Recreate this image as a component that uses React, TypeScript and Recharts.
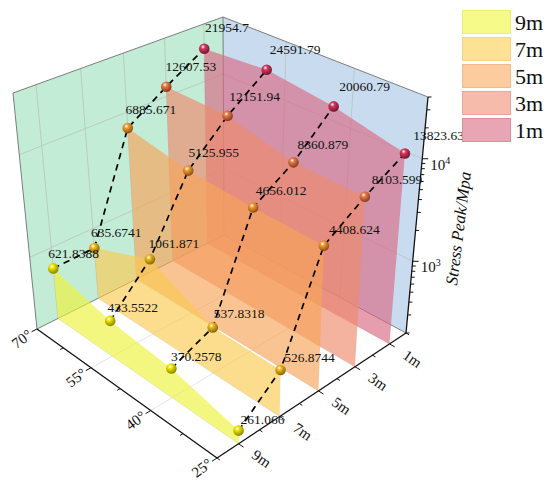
import React from 'react';
import { ScatterChart, Scatter, XAxis, YAxis } from 'recharts';

const W = 550;
const H = 487;

// data
const angleLabels = ['70°', '55°', '40°', '25°'];
const seriesLabels = ['9m', '7m', '5m', '3m', '1m'];
const stress9m = [621.8388, 433.5522, 370.2578, 261.066];
const stress7m = [635.6741, 1061.871, 537.8318, 526.8744];
const stress5m = [6885.671, 5125.955, 4656.012, 4408.624];
const stress3m = [12607.53, 12151.94, 8360.879, 8103.599];
const stress1m = [21954.7, 24591.79, 20060.79, 13823.63];
const seriesValues = [stress9m, stress7m, stress5m, stress3m, stress1m];
const zDomain = [200, 40000];
const zMajorTicks = [1000, 10000];
const zMajorExponents = ['3', '4'];

// colours
const legendFill = ['#f6fa88', '#fde194', '#fccb9e', '#f6bbab', '#e8a5b3'];
const legendStroke = ['#eef06a', '#f8d27c', '#f7b98a', '#f0a598', '#df8b9d'];
const ribbonFill = ['#eef23a', '#fbca50', '#f8a458', '#ee8a6c', '#d86a82'];
const sphereColor = ['#ece400', '#ebb81c', '#ee9c30', '#e57846', '#d03a5c'];
const sphereDark = ['#8c8400', '#8e6400', '#8c4c10', '#8a3a1e', '#7c1232'];

// 3D box corners on screen (floor and top faces): 70°/9m, 25°/9m, 25°/1m, 70°/1m
const floorQuad = [[37, 329], [217, 458], [406, 333], [224, 235]];
const topQuad = [[13, 93], [215, 193], [428, 97], [223, 17]];

function makeHomography(q: number[][]) {
  const [[x0, y0], [x1, y1], [x2, y2], [x3, y3]] = q;
  const dx1 = x1 - x2, dx2 = x3 - x2, dx3 = x0 - x1 + x2 - x3;
  const dy1 = y1 - y2, dy2 = y3 - y2, dy3 = y0 - y1 + y2 - y3;
  const den = dx1 * dy2 - dx2 * dy1;
  const g = (dx3 * dy2 - dx2 * dy3) / den;
  const h = (dx1 * dy3 - dx3 * dy1) / den;
  const a = x1 - x0 + g * x1, b = x3 - x0 + h * x3, c = x0;
  const d = y1 - y0 + g * y1, e = y3 - y0 + h * y3, f = y0;
  return (u: number, v: number) => {
    const w = g * u + h * v + 1;
    return [(a * u + b * v + c) / w, (d * u + e * v + f) / w];
  };
}

const floorAt = makeHomography(floorQuad);
const topAt = makeHomography(topQuad);
const lz0 = Math.log10(zDomain[0]);
const lz1 = Math.log10(zDomain[1]);
const logFrac = (val: number) => (Math.log10(val) - lz0) / (lz1 - lz0);
const uOf = (i: number) => i / (angleLabels.length - 1);
const vOf = (j: number) => (j + 0.5) / seriesLabels.length;

type Pt = { x: number; y: number; label?: string; id?: string };

function project(u: number, v: number, hf: number): Pt {
  const f = floorAt(u, v);
  const t = topAt(u, v);
  return { x: f[0] + hf * (t[0] - f[0]), y: f[1] + hf * (t[1] - f[1]) };
}

// ---------- geometry built from the data ----------
const leftWall = [project(0, 0, 0), project(0, 1, 0), project(0, 1, 1), project(0, 0, 1)];
const rightWall = [project(0, 1, 0), project(1, 1, 0), project(1, 1, 1), project(0, 1, 1)];

const wallGrid: Pt[] = [];
seriesLabels.forEach((_, j) => wallGrid.push(project(0, vOf(j), 0), project(0, vOf(j), 1)));
zMajorTicks.forEach((z) => wallGrid.push(project(0, 0, logFrac(z)), project(0, 1, logFrac(z))));
[1, 2].forEach((i) => wallGrid.push(project(uOf(i), 1, 0), project(uOf(i), 1, 1)));
zMajorTicks.forEach((z) => wallGrid.push(project(0, 1, logFrac(z)), project(1, 1, logFrac(z))));

const floorGrid: Pt[] = [];
[1, 2].forEach((i) => floorGrid.push(project(uOf(i), 0, 0), project(uOf(i), 1, 0)));
seriesLabels.forEach((_, j) => floorGrid.push(project(0, vOf(j), 0), project(1, vOf(j), 0)));

const boxEdges: Pt[] = [
  project(0, 0, 1), project(0, 1, 1),
  project(0, 1, 1), project(1, 1, 1),
  project(0, 0, 0), project(0, 0, 1),
  project(0, 1, 0), project(0, 1, 1),
  project(0, 0, 0), project(0, 1, 0),
  project(0, 1, 0), project(1, 1, 0),
];

const axisLines: Pt[] = [
  project(0, 0, 0), project(1, 0, 0),
  project(1, 0, 0), project(1, 1, 0),
  project(1, 1, 0), project(1, 1, 1),
];

function tickSeg(p: Pt, q: Pt, len: number): Pt[] {
  const dx = q.x - p.x, dy = q.y - p.y;
  const n = Math.hypot(dx, dy) || 1;
  return [p, { x: p.x + (dx / n) * len, y: p.y + (dy / n) * len }];
}

const ticks: Pt[] = [];
for (let k = 0; k <= 6; k++) {
  const u = k / 6;
  ticks.push(...tickSeg(project(u, 0, 0), project(u, -0.05, 0), k % 2 === 0 ? 6 : 3.5));
}
for (let k = 0; k <= 10; k++) {
  const v = k / 10;
  ticks.push(...tickSeg(project(1, v, 0), project(1.05, v, 0), k % 2 === 1 ? 6 : 3.5));
}
const zMinor: number[] = [];
for (let dec = 100; dec <= 10000; dec *= 10) {
  for (let m = 1; m <= 9; m++) {
    const z = dec * m;
    if (z >= zDomain[0] && z <= zDomain[1]) zMinor.push(z);
  }
}
zMinor.forEach((z) => {
  const p = project(1, 1, logFrac(z));
  const major = zMajorTicks.includes(z);
  ticks.push(p, { x: p.x + (major ? 6 : 3.5), y: p.y });
});

const ribbons = seriesValues.map((vals, j) => {
  const v = vOf(j);
  return [project(0, v, 0), ...vals.map((val, i) => project(uOf(i), v, logFrac(val))), project(1, v, 0)];
});

const dataPoints = seriesValues.map((vals, j) =>
  vals.map((val, i) => ({ ...project(uOf(i), vOf(j), logFrac(val)), label: String(val), id: `s${j}a${i}` }))
);

const dashLines = angleLabels.map((_, i) => seriesValues.map((vals, j) => project(uOf(i), vOf(j), logFrac(vals[i]))));

const valueLabels: Pt[] = dataPoints.flat().map((p) => ({
  x: p.x - 7 + 0.038 * p.x,
  y: p.y - 18 + 0.027 * p.y,
  label: p.label,
}));

const angleTickLabels: Pt[] = angleLabels.map((lab, i) => {
  const p = project(uOf(i), 0, 0);
  return { x: p.x - 15, y: p.y + 10, label: lab };
});
const seriesTickLabels: Pt[] = seriesLabels.map((lab, j) => {
  const p = project(1, vOf(j), 0);
  return { x: p.x + 23, y: p.y + 15, label: lab };
});
const zTickLabels: Pt[] = zMajorTicks.map((z, k) => {
  const p = project(1, 1, logFrac(z));
  return { x: p.x + 8, y: p.y + 11, label: zMajorExponents[k] };
});

// ---------- renderers ----------
const noDot = () => <g />;
const ptsStr = (pts: { x: number; y: number }[]) => pts.map((p) => `${p.x},${p.y}`).join(' ');

const polygonLine = (fill: string, opacity: number) => (props: any) => (
  <polygon points={ptsStr(props.points)} fill={fill} fillOpacity={opacity} stroke="none" />
);
const polylineLine = (stroke: string, width: number, dash?: string) => (props: any) => (
  <polyline points={ptsStr(props.points)} fill="none" stroke={stroke} strokeWidth={width} strokeDasharray={dash} />
);
const segmentsLine = (stroke: string, width: number) => (props: any) => {
  const pts = props.points;
  const segs = [];
  for (let k = 0; k + 1 < pts.length; k += 2) {
    segs.push(<line key={k} x1={pts[k].x} y1={pts[k].y} x2={pts[k + 1].x} y2={pts[k + 1].y} stroke={stroke} strokeWidth={width} />);
  }
  return <g>{segs}</g>;
};

const textShape = (size: number, rotate: number, anchor: string, extra: any = {}) => (p: any) => (
  <text
    x={p.cx}
    y={p.cy}
    fontSize={size}
    textAnchor={anchor}
    dominantBaseline={rotate !== 0 ? 'central' : 'auto'}
    transform={rotate !== 0 ? `rotate(${rotate} ${p.cx} ${p.cy})` : undefined}
    fill="#111"
    fontFamily="'Liberation Serif', 'Times New Roman', serif"
    {...extra}
  >
    {p.payload.label}
  </text>
);

const powerShape = (p: any) => (
  <text x={p.cx} y={p.cy} fontSize={15} fill="#111" fontFamily="'Liberation Serif', serif">
    10
    <tspan fontSize={10} dy={-6}>{p.payload.label}</tspan>
  </text>
);

const sphereShape = (j: number) => (p: any) => {
  const gid = `sph-${p.payload.id}`;
  return (
    <g>
      <defs>
        <radialGradient id={gid} cx="38%" cy="32%" r="68%">
          <stop offset="0%" stopColor="#ffffff" />
          <stop offset="30%" stopColor={sphereColor[j]} />
          <stop offset="100%" stopColor={sphereDark[j]} />
        </radialGradient>
      </defs>
      <circle cx={p.cx} cy={p.cy} r={5.3} fill={`url(#${gid})`} />
    </g>
  );
};

function Legend() {
  return (
    <svg width={W} height={H} style={{ position: 'absolute', left: 0, top: 0, pointerEvents: 'none' }}>
      {seriesLabels.map((lab, j) => (
        <g key={lab}>
          <rect x={462.5} y={10.5 + 27 * j} width={48} height={23} fill={legendFill[j]} stroke={legendStroke[j]} strokeWidth={1} />
          <text x={515} y={30 + 27 * j} fontSize={22} fill="#111" fontFamily="'Liberation Serif', serif">
            {lab}
          </text>
        </g>
      ))}
    </svg>
  );
}

export default function App() {
  return (
    <div style={{ position: 'absolute', left: 0, top: 0, width: W, height: H, background: '#fff' }}>
      <ScatterChart width={W} height={H} margin={{ top: 0, right: 0, bottom: 0, left: 0 }}>
        <XAxis type="number" dataKey="x" domain={[0, W]} allowDataOverflow hide />
        <YAxis type="number" dataKey="y" domain={[0, H]} allowDataOverflow reversed hide />

        <Scatter data={leftWall} shape={noDot} line={polygonLine('#c3ecd7', 1)} isAnimationActive={false} />
        <Scatter data={rightWall} shape={noDot} line={polygonLine('#c9dcef', 1)} isAnimationActive={false} />
        <Scatter data={wallGrid} shape={noDot} line={segmentsLine('#b9c2be', 0.8)} isAnimationActive={false} />
        <Scatter data={floorGrid} shape={noDot} line={segmentsLine('#dcdcdc', 0.8)} isAnimationActive={false} />
        <Scatter data={boxEdges} shape={noDot} line={segmentsLine('#7d7d7d', 1)} isAnimationActive={false} />

        {[4, 3, 2, 1, 0].map((j) => (
          <Scatter key={`rib${j}`} data={ribbons[j]} shape={noDot} line={polygonLine(ribbonFill[j], 0.65)} isAnimationActive={false} />
        ))}

        <Scatter data={axisLines} shape={noDot} line={segmentsLine('#111', 1.3)} isAnimationActive={false} />
        <Scatter data={ticks} shape={noDot} line={segmentsLine('#111', 1)} isAnimationActive={false} />

        {dashLines.map((pts, i) => (
          <Scatter key={`dash${i}`} data={pts} shape={noDot} line={polylineLine('#000', 1.7, '6.5 5')} isAnimationActive={false} />
        ))}

        {dataPoints.map((pts, j) => (
          <Scatter key={`pt${j}`} data={pts} shape={sphereShape(j)} isAnimationActive={false} />
        ))}

        <Scatter data={valueLabels} shape={textShape(13.5, 0, 'start')} isAnimationActive={false} />
        <Scatter data={angleTickLabels} shape={textShape(15, -37, 'middle')} isAnimationActive={false} />
        <Scatter data={seriesTickLabels} shape={textShape(15, 35, 'middle')} isAnimationActive={false} />
        <Scatter data={zTickLabels} shape={powerShape} isAnimationActive={false} />
        <Scatter
          data={[{ x: 464, y: 229, label: 'Stress Peak/Mpa' }]}
          shape={textShape(17, -83, 'middle', { fontStyle: 'italic', dominantBaseline: 'auto' })}
          isAnimationActive={false}
        />
      </ScatterChart>
      <Legend />
    </div>
  );
}
